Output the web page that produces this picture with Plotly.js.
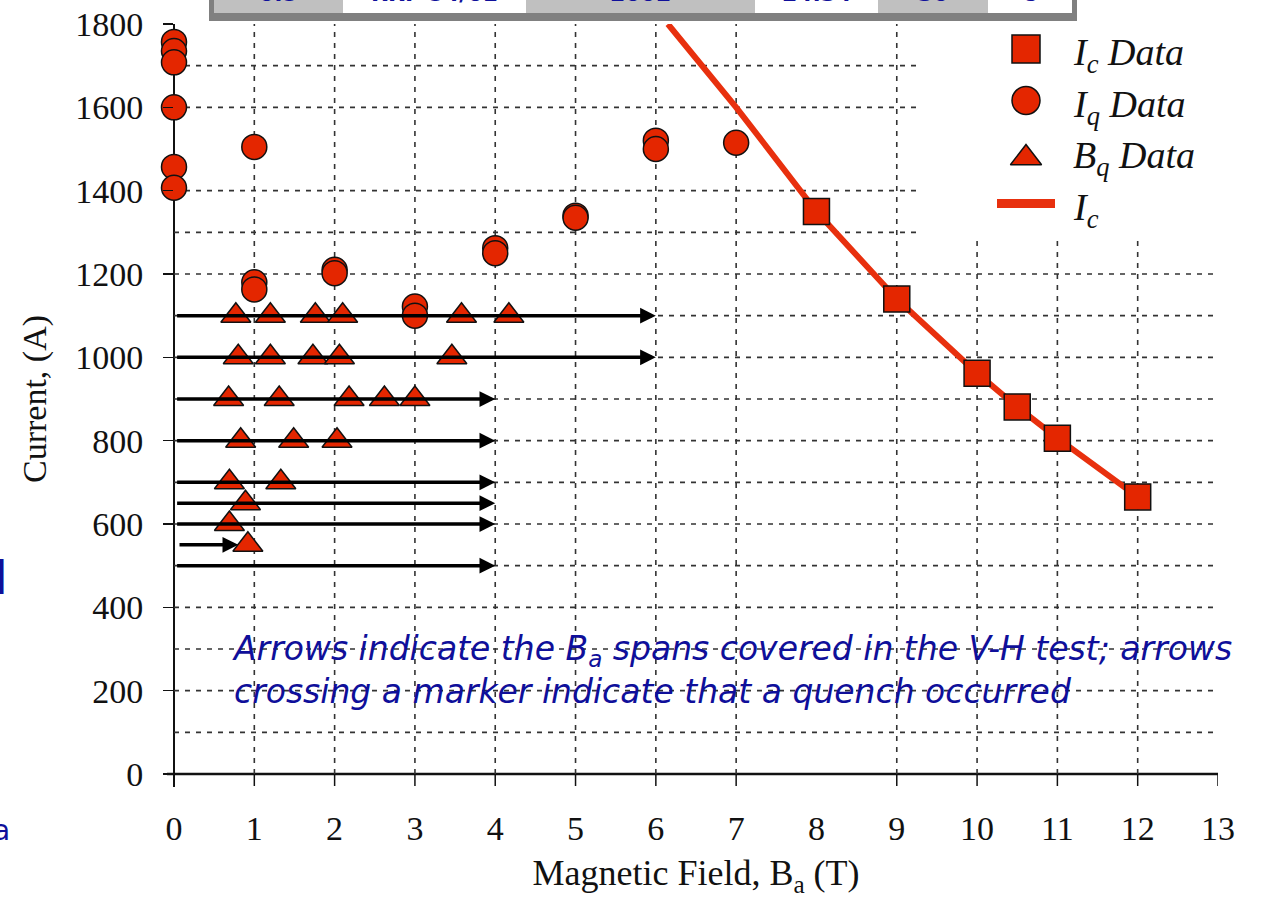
<!DOCTYPE html>
<html>
<head>
<meta charset="utf-8">
<script src="https://cdn.plot.ly/plotly-3.0.1.min.js"></script>
<style>
  html, body { margin: 0; padding: 0; background: #fff; }
  #chart { width: 1264px; height: 898px; }
</style>
</head>
<body>
<div id="chart"></div>
<script>
// Critical current measurements (square markers)
const icField = [8, 9, 10, 10.5, 11, 12];
const icCurrent = [1350, 1140, 962, 881, 806, 665];

// Critical current curve
const icCurveField = [6.15, 7, 8, 9, 10, 10.5, 11, 12];
const icCurveCurrent = [1800, 1600, 1350, 1140, 962, 881, 806, 665];

// Quench current data (circles)
const iqField = [0, 0, 0, 0, 0, 0, 1, 1, 1, 2, 2, 3, 3, 4, 4, 5, 5, 6, 6, 7];
const iqCurrent = [1757, 1735, 1708, 1600, 1457, 1407, 1505, 1180, 1163, 1210, 1202,
                   1122, 1100, 1262, 1250, 1340, 1335, 1520, 1500, 1515];

// Quench field data (triangles)
const bqField = [0.77, 1.2, 1.76, 2.1, 3.58, 4.17,
                 0.8, 1.2, 1.73, 2.06, 3.46,
                 0.68, 1.31, 2.18, 2.62, 3.0,
                 0.83, 1.49, 2.03,
                 0.69, 1.33,
                 0.89,
                 0.69,
                 0.92];
const bqCurrent = [1100, 1100, 1100, 1100, 1100, 1100,
                   1000, 1000, 1000, 1000, 1000,
                   900, 900, 900, 900, 900,
                   800, 800, 800,
                   700, 700,
                   650,
                   600,
                   550];

// V-H test field sweeps (arrows)
const sweepCurrent = [1100, 1000, 900, 800, 700, 650, 600, 550, 500];
const sweepStart = [0.02, 0.02, 0.02, 0.02, 0.02, 0.02, 0.02, 0.05, 0.02];
const sweepEnd = [6, 6, 4, 4, 4, 4, 4, 0.8, 4];

// Axis ticks and grid
const xTicks = [0, 1, 2, 3, 4, 5, 6, 7, 8, 9, 10, 11, 12, 13];
const xTickMarks = [0, 1, 2, 3, 4, 5, 6, 7, 9, 10, 11, 12, 13];
const yTicks = [0, 200, 400, 600, 800, 1000, 1200, 1400, 1600, 1800];
const gridX = [1, 2, 3, 4, 5, 6, 7, 9, 10, 11, 12];
const gridY = [100, 200, 300, 400, 500, 600, 700, 800, 900, 1000, 1100, 1200, 1300, 1400, 1600, 1700];

// Legend key entries
const legendLabels = ['<i>I<sub>c</sub> Data</i>', '<i>I<sub>q</sub> Data</i>',
                      '<i>B<sub>q</sub> Data</i>', '<i>I<sub>c</sub></i>'];
const legendSymbols = ['square', 'circle', 'triangle-up', 'line'];

// Header table row (partly above the page)
const tableText = ['0.5', 'RRP 54/61', '2002', '24.34', '30', '8'];

const RED = '#e42600';
const LINE_RED = '#e8300e';
const GRID = '#333333';
const SERIF = 'Liberation Serif, Times New Roman, serif';
const BLUE = '#0f0f9a';

// pixel helpers for paper-referenced decorations
const L = 174, W = 1044, T = 24, H = 750;
const px = v => (v - L) / W;
const py = v => (T + H - v) / H;

const traces = [
  {
    x: icCurveField, y: icCurveCurrent, type: 'scatter', mode: 'lines',
    line: { color: LINE_RED, width: 6 }, showlegend: false, hoverinfo: 'skip'
  },
  {
    x: icField, y: icCurrent, type: 'scatter', mode: 'markers',
    marker: { symbol: 'square', size: 26, color: RED, line: { color: '#111', width: 1.5 } },
    showlegend: false, cliponaxis: false
  },
  {
    x: iqField, y: iqCurrent, type: 'scatter', mode: 'markers',
    marker: { symbol: 'circle', size: 25, color: RED, line: { color: '#111', width: 1.5 } },
    showlegend: false, cliponaxis: false
  },
  {
    x: bqField, y: bqCurrent, type: 'scatter', mode: 'markers',
    marker: { symbol: 'triangle-up', size: 26, color: RED, line: { color: '#111', width: 1.5 } },
    showlegend: false, cliponaxis: false
  }
];

// Legend key drawn on its own small axes
const keyX = 1026, keyTop = 49, keyStep = 51.5;
legendSymbols.forEach((sym, i) => {
  const yy = keyTop + i * keyStep;
  if (sym === 'line') {
    traces.push({
      x: [keyX - 29, keyX + 29], y: [yy, yy], xaxis: 'x2', yaxis: 'y2',
      type: 'scatter', mode: 'lines', line: { color: LINE_RED, width: 9 },
      showlegend: false, hoverinfo: 'skip'
    });
  } else {
    traces.push({
      x: [keyX], y: [yy + (sym === 'triangle-up' ? 6 : 0)], xaxis: 'x2', yaxis: 'y2',
      type: 'scatter', mode: 'markers',
      marker: { symbol: sym, size: sym === 'triangle-up' ? 27 : 28, color: RED,
                line: { color: '#111', width: 1.5 } },
      showlegend: false, hoverinfo: 'skip', cliponaxis: false
    });
  }
});

const shapes = [];
// dashed grid
gridX.forEach(v => shapes.push({
  type: 'line', xref: 'x', yref: 'y', x0: v, x1: v, y0: 0, y1: 1800, layer: 'below',
  line: { color: GRID, width: 1.6, dash: '5px,6px' }
}));
gridY.forEach(v => shapes.push({
  type: 'line', xref: 'x', yref: 'y', x0: 0, x1: 13, y0: v, y1: v, layer: 'below',
  line: { color: GRID, width: 1.6, dash: '5px,6px' }
}));
// white key background
shapes.push({
  type: 'rect', xref: 'paper', yref: 'paper', x0: px(922), x1: 1, y0: py(240), y1: 1,
  layer: 'below', fillcolor: '#fff', line: { width: 0 }
});
// axis lines
shapes.push({ type: 'line', xref: 'paper', yref: 'paper', x0: px(167), x1: 1, y0: 0, y1: 0,
  layer: 'below', line: { color: '#111', width: 2.5 } });
shapes.push({ type: 'line', xref: 'paper', yref: 'paper', x0: 0, x1: 0, y0: py(787), y1: 1,
  layer: 'below', line: { color: '#111', width: 2 } });
// x tick marks
xTickMarks.forEach(v => shapes.push({
  type: 'line', xref: 'x', yref: 'paper', x0: v, x1: v, y0: 0, y1: py(786), layer: 'below',
  line: { color: '#111', width: 1.5 }
}));

// header table
const cellEdges = [213, 343, 526, 755, 878, 988, 1073];
for (let i = 0; i < cellEdges.length - 1; i++) {
  shapes.push({
    type: 'rect', xref: 'paper', yref: 'paper', x0: px(cellEdges[i]), x1: px(cellEdges[i + 1]),
    y0: py(13), y1: py(-10), fillcolor: i % 2 === 0 ? '#c0c0c0' : '#ffffff',
    line: { width: 0 }, layer: 'above'
  });
}
shapes.push({ type: 'rect', xref: 'paper', yref: 'paper', x0: px(209), x1: px(1077),
  y0: py(21), y1: py(13), fillcolor: '#808080', line: { width: 0 }, layer: 'above' });
shapes.push({ type: 'rect', xref: 'paper', yref: 'paper', x0: px(209), x1: px(214),
  y0: py(21), y1: py(-10), fillcolor: '#808080', line: { width: 0 }, layer: 'above' });
shapes.push({ type: 'rect', xref: 'paper', yref: 'paper', x0: px(1072), x1: px(1077),
  y0: py(21), y1: py(-10), fillcolor: '#808080', line: { width: 0 }, layer: 'above' });

const annotations = [];
// sweep arrows
sweepCurrent.forEach((c, i) => annotations.push({
  x: sweepEnd[i], y: c, ax: sweepStart[i], ay: c, xref: 'x', yref: 'y', axref: 'x', ayref: 'y',
  text: '', showarrow: true, arrowhead: 2, arrowsize: 0.9, arrowwidth: 3.5, arrowcolor: '#000'
}));
// legend key labels
legendLabels.forEach((t, i) => annotations.push({
  x: 1071, y: keyTop + 6 + i * keyStep, xref: 'x2', yref: 'y2', xanchor: 'left', yanchor: 'middle',
  text: t, showarrow: false, font: { family: SERIF, size: 38, color: '#111' }
}));
// note on the arrows
annotations.push({
  x: 0.7, y: 352, xref: 'x', yref: 'y', xanchor: 'left', yanchor: 'top', align: 'left',
  showarrow: false,
  text: '<i>Arrows indicate the B<sub>a</sub> spans covered in the V-H test; arrows<br>' +
        'crossing a marker indicate that a quench occurred</i>',
  font: { family: 'DejaVu Sans, Verdana, sans-serif', size: 33, color: BLUE }
});
// header cell text
tableText.forEach((t, i) => annotations.push({
  x: px((cellEdges[i] + cellEdges[i + 1]) / 2), y: py(8), xref: 'paper', yref: 'paper',
  xanchor: 'center', yanchor: 'bottom', text: '<b>' + t + '</b>', showarrow: false,
  font: { family: 'DejaVu Sans, Verdana, sans-serif', size: 22, color: BLUE }
}));
// slide text fragments at the left edge
annotations.push({ x: px(10), y: py(578), xref: 'paper', yref: 'paper', xanchor: 'right',
  yanchor: 'middle', text: 'l', showarrow: false,
  font: { family: 'DejaVu Sans, sans-serif', size: 46, color: BLUE } });
annotations.push({ x: px(12), y: py(830), xref: 'paper', yref: 'paper', xanchor: 'right',
  yanchor: 'middle', text: 'a', showarrow: false,
  font: { family: 'DejaVu Sans, sans-serif', size: 28, color: BLUE } });

const layout = {
  width: 1264, height: 898,
  margin: { l: L, r: 1264 - L - W, t: T, b: 898 - T - H, pad: 0 },
  paper_bgcolor: '#fff', plot_bgcolor: '#fff',
  showlegend: false,
  font: { family: SERIF, color: '#111' },
  xaxis: {
    range: [0, 13], tickvals: xTicks, ticktext: xTicks.map(String), ticks: '',
    showgrid: false, zeroline: false, showline: false, ticklabelstandoff: 31,
    tickfont: { family: SERIF, size: 34, color: '#111' },
    title: { text: 'Magnetic Field, B<sub>a</sub> (T)', font: { family: SERIF, size: 36, color: '#111' }, standoff: 19 }
  },
  yaxis: {
    range: [0, 1800], tickvals: yTicks, ticks: 'outside', ticklen: 10, tickwidth: 1.5, tickcolor: '#111',
    showgrid: false, zeroline: false, showline: false, ticklabelstandoff: 13,
    tickfont: { family: SERIF, size: 34, color: '#111' },
    title: { text: 'Current, (A)', font: { family: SERIF, size: 34, color: '#111' }, standoff: 18 }
  },
  xaxis2: { domain: [px(922), 1], range: [922, 1218], anchor: 'y2', visible: false, fixedrange: true },
  yaxis2: { domain: [py(240), 1], range: [240, 24], anchor: 'x2', visible: false, fixedrange: true },
  shapes: shapes,
  annotations: annotations
};

Plotly.newPlot('chart', traces, layout, { displayModeBar: false, staticPlot: true });
</script>
</body>
</html>
